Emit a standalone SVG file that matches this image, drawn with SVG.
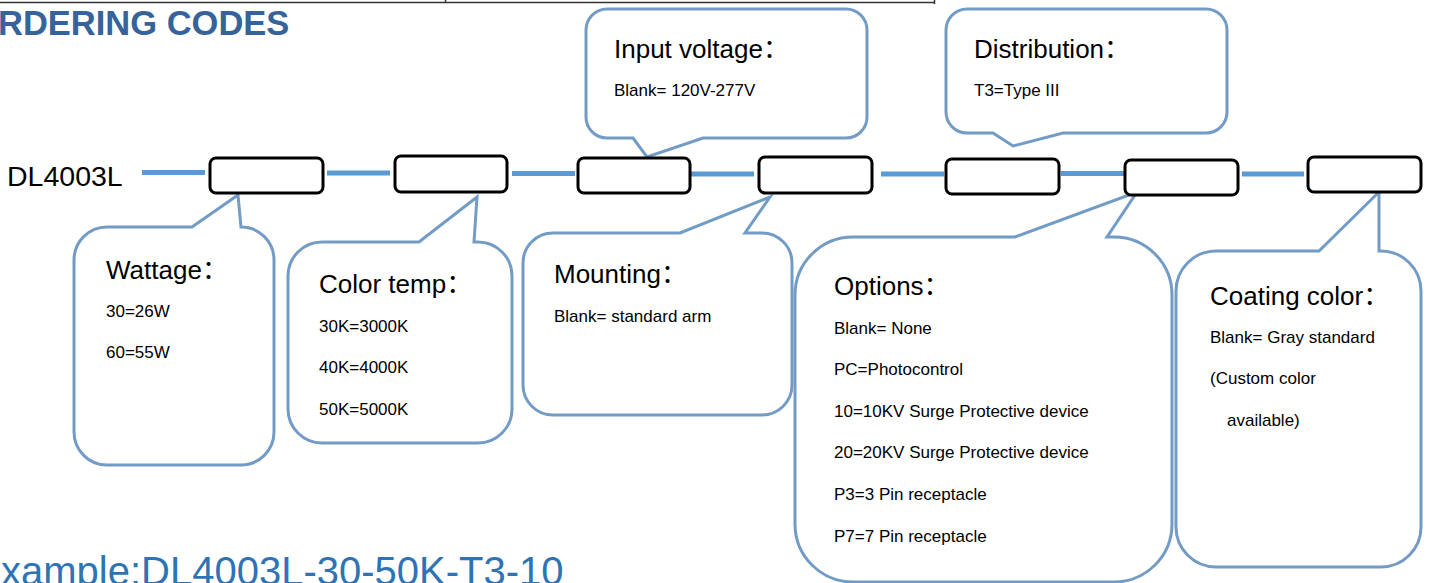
<svg xmlns="http://www.w3.org/2000/svg" width="1429" height="583" viewBox="0 0 1429 583">
<style>
text{font-family:"Liberation Sans","Noto Sans CJK SC",Arial,sans-serif;fill:#000}
.h{font-size:26px}
.b{font-size:17px}
.co{fill:#fff;stroke:#729BC6;stroke-width:3;stroke-linejoin:miter}
.box{fill:#fff;stroke:#000;stroke-width:3}
.ln{stroke:#5B9BD5;stroke-width:5;fill:none}
.cj{font-family:"Noto Sans CJK SC",sans-serif}
</style>
<g id="frame" stroke="#333" stroke-width="1.5" fill="none">
<line x1="0" y1="2.5" x2="935" y2="2.5"/>
<line x1="445.5" y1="0" x2="445.5" y2="3"/>
<line x1="934.5" y1="0" x2="934.5" y2="4"/>
</g>
<text id="title" x="-2" y="35" style="font-size:34.5px;font-weight:bold;fill:#35639A">RDERING CODES</text>
<text id="prefix" x="7" y="186" style="font-size:28.5px">DL4003L</text>
<g id="connectors">
<line class="ln" x1="142" y1="172.5" x2="205" y2="172.5"/>
<line class="ln" x1="327" y1="173" x2="390" y2="173"/>
<line class="ln" x1="512" y1="173.5" x2="575" y2="173.5"/>
<line class="ln" x1="691" y1="174" x2="754" y2="174"/>
<line class="ln" x1="881" y1="174" x2="944" y2="174"/>
<line class="ln" x1="1061" y1="173.5" x2="1124" y2="173.5"/>
<line class="ln" x1="1242" y1="174" x2="1304" y2="174"/>
</g>
<g id="callout-input">
<path class="co" d="M607,9 L846,9 A21,21 0 0 1 867,30 L867,117 A21,21 0 0 1 846,138 L703,138 L647,157 L633,138 L607,138 A21,21 0 0 1 586,117 L586,30 A21,21 0 0 1 607,9 Z"/>
<text class="h" x="614" y="58">Input voltage<tspan class="cj">：</tspan></text>
<text class="b" x="614" y="96">Blank= 120V-277V</text>
</g>
<g id="callout-distribution">
<path class="co" d="M967,9 L1206,9 A21,21 0 0 1 1227,30 L1227,112 A21,21 0 0 1 1206,133 L1063,133 L1013,146 L993,133 L967,133 A21,21 0 0 1 946,112 L946,30 A21,21 0 0 1 967,9 Z"/>
<text class="h" x="974" y="58">Distribution<tspan class="cj">：</tspan></text>
<text class="b" x="974" y="96">T3=Type III</text>
</g>
<g id="callout-wattage">
<path class="co" d="M107,227 L192,227 L238,195 L241,227 A33,33 0 0 1 274,260 L274,432 A33,33 0 0 1 241,465 L107,465 A33,33 0 0 1 74,432 L74,260 A33,33 0 0 1 107,227 Z"/>
<text class="h" x="106" y="279">Wattage<tspan class="cj">：</tspan></text>
<text class="b" x="106" y="317">30=26W</text>
<text class="b" x="106" y="358">60=55W</text>
</g>
<g id="callout-colortemp">
<path class="co" d="M322,242 L419,242 L477,197 L474,242 L478,242 A34,34 0 0 1 512,276 L512,409 A34,34 0 0 1 478,443 L322,443 A34,34 0 0 1 288,409 L288,276 A34,34 0 0 1 322,242 Z"/>
<text class="h" x="319" y="293">Color temp<tspan class="cj">：</tspan></text>
<text class="b" x="319" y="332">30K=3000K</text>
<text class="b" x="319" y="373">40K=4000K</text>
<text class="b" x="319" y="415">50K=5000K</text>
</g>
<g id="callout-mounting">
<path class="co" d="M553,233 L680,233 L770,197 L745,233 L762,233 A30,30 0 0 1 792,263 L792,385 A30,30 0 0 1 762,415 L553,415 A30,30 0 0 1 523,385 L523,263 A30,30 0 0 1 553,233 Z"/>
<text class="h" x="554" y="283">Mounting<tspan class="cj">：</tspan></text>
<text class="b" x="554" y="322">Blank= standard arm</text>
</g>
<g id="callout-options">
<path class="co" d="M853,237 L1015,237 L1137,192 L1107,237 L1114,237 A58,58 0 0 1 1172,295 L1172,524 A58,58 0 0 1 1114,582 L853,582 A58,58 0 0 1 795,524 L795,295 A58,58 0 0 1 853,237 Z"/>
<text class="h" x="834" y="295">Options<tspan class="cj">：</tspan></text>
<text class="b" x="834" y="334">Blank= None</text>
<text class="b" x="834" y="375">PC=Photocontrol</text>
<text class="b" x="834" y="417">10=10KV Surge Protective device</text>
<text class="b" x="834" y="458">20=20KV Surge Protective device</text>
<text class="b" x="834" y="500">P3=3 Pin receptacle</text>
<text class="b" x="834" y="542">P7=7 Pin receptacle</text>
</g>
<g id="callout-coating">
<path class="co" d="M1216,251 L1319,251 L1379,192 L1379,251 L1381,251 A40,40 0 0 1 1421,291 L1421,527 A40,40 0 0 1 1381,567 L1216,567 A40,40 0 0 1 1176,527 L1176,291 A40,40 0 0 1 1216,251 Z"/>
<text class="h" x="1210" y="305">Coating color<tspan class="cj">：</tspan></text>
<text class="b" x="1210" y="343">Blank= Gray standard</text>
<text class="b" x="1210" y="384">(Custom color</text>
<text class="b" x="1227" y="426">available)</text>
</g>
<g id="box-1"><rect class="box" x="210" y="158" width="113" height="35" rx="6"/></g>
<g id="box-2"><rect class="box" x="395" y="156" width="112" height="36" rx="6"/></g>
<g id="box-3"><rect class="box" x="578" y="158" width="112" height="35" rx="6"/></g>
<g id="box-4"><rect class="box" x="759" y="157" width="113" height="36" rx="6"/></g>
<g id="box-5"><rect class="box" x="946" y="159" width="113" height="35" rx="6"/></g>
<g id="box-6"><rect class="box" x="1125" y="160" width="113" height="35" rx="6"/></g>
<g id="box-7"><rect class="box" x="1308" y="157" width="113" height="35" rx="6"/></g>
<text id="example" x="1" y="585" style="font-size:40px;fill:#2E74B5">xample:DL4003L-30-50K-T3-10</text>
</svg>
